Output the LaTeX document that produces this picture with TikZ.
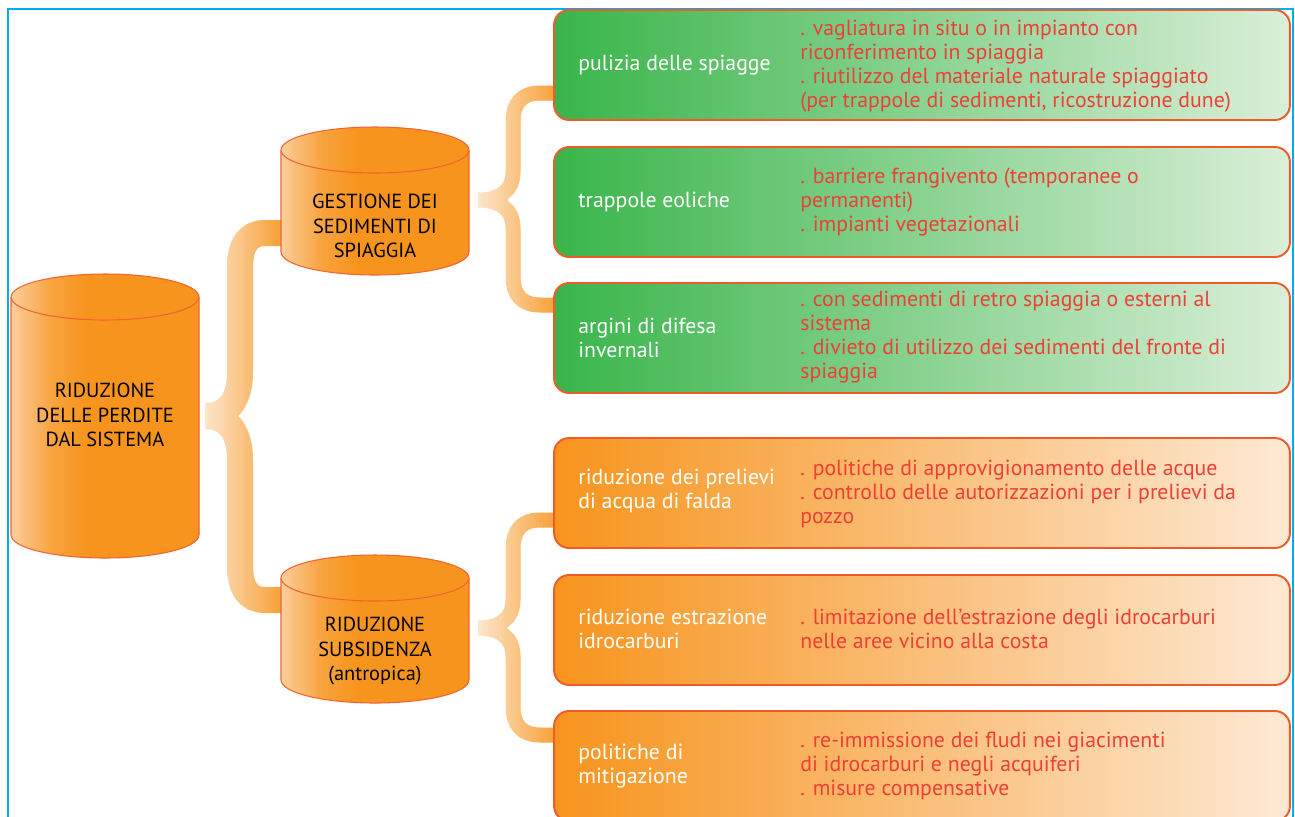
\documentclass[tikz,border=0pt]{standalone}
\usepackage{fontspec}
\setmainfont{PT Sans}

\definecolor{framecyan}{RGB}{0,174,239}
\definecolor{cylorange}{RGB}{247,148,29}
\definecolor{cyllight}{RGB}{251,206,156}
\definecolor{cylline}{RGB}{241,100,50}
\definecolor{boxline}{RGB}{241,90,41}
\definecolor{greendark}{RGB}{57,181,74}
\definecolor{greenlight}{RGB}{218,239,216}
\definecolor{orangelight}{RGB}{253,233,212}
\definecolor{notered}{RGB}{238,64,54}
\definecolor{bracelight}{RGB}{252,230,204}
\definecolor{bracedark}{RGB}{247,160,55}

\pgfdeclarehorizontalshading{cylshade}{100bp}{color(0bp)=(cyllight); color(25bp)=(cyllight); color(36bp)=(cylorange!75!cyllight); color(45bp)=(cylorange); color(100bp)=(cylorange)}

% brace drawn in strips, light at the tip, orange at the arms
\newcommand{\gradbrace}[4]{%
  \foreach \k in {0,...,23} {
    \pgfmathsetmacro{\xa}{#2+(#3-#2)*\k/24}
    \pgfmathsetmacro{\xb}{#2+(#3-#2)*(\k+1)/24+0.6}
    \pgfmathtruncatemacro{\pc}{100*(\k+0.5)/24}
    \begin{scope}
      \clip (\xa,0) rectangle (\xb,816);
      \draw[line width=#4, color=bracedark!\pc!bracelight] #1;
    \end{scope}
  }}

% cylinder: centre x, top y, bottom y
\newcommand{\cylinder}[3]{%
  \shade[shading=cylshade] (#1-94,#2) -- (#1-94,#3) arc[start angle=180, end angle=0, x radius=94, y radius=23] -- (#1+94,#2) arc[start angle=0, end angle=-180, x radius=94, y radius=23] -- cycle;
  \draw[cylline, line width=0.6pt] (#1-94,#2) -- (#1-94,#3) arc[start angle=180, end angle=0, x radius=94, y radius=23] -- (#1+94,#2);
  \shade[shading=cylshade, draw=cylline, line width=0.6pt] (#1,#2) ellipse[x radius=94, y radius=23];
}

\begin{document}
\begin{tikzpicture}[x=0.02cm, y=-0.02cm,
    cyltxt/.style={align=center, text=black, inner sep=0pt, font=\fontsize{11.6}{13.8}\selectfont},
    greenbox/.style={draw=boxline, line width=1.1pt, rounded corners=0.3cm, left color=greendark, right color=greenlight, minimum width=14.72cm, minimum height=2.2cm},
    orangebox/.style={greenbox, left color=cylorange, right color=orangelight},
    lefttxt/.style={anchor=west, align=left, text=white, inner sep=0pt, font=\fontsize{12.4}{13.6}\selectfont},
    righttxt/.style={anchor=west, align=left, text=notered, inner sep=0pt, font=\fontsize{12.4}{13.6}\selectfont}]
  \useasboundingbox (0,0) rectangle (1295,816);
  \draw[framecyan, line width=1.1pt] (8,9) rectangle (1293,840);

  % braces
  \gradbrace{(281,233) -- (265,233) .. controls (248,233) and (240,245) .. (240,268) -- (240,372) .. controls (240,400) and (228,416) .. (205,416)
    (205,416) .. controls (228,416) and (240,432) .. (240,460) -- (240,565) .. controls (240,588) and (248,600) .. (265,600) -- (281,600)}{205}{281}{0.52cm}
  \gradbrace{(556,93) -- (540,93) .. controls (522,93) and (513,103) .. (513,122) -- (513,172) .. controls (513,192) and (498,200) .. (478,200)
    (478,200) .. controls (498,200) and (513,208) .. (513,228) -- (513,276) .. controls (513,295) and (522,305) .. (540,305) -- (556,305)}{478}{556}{0.3cm}
  \gradbrace{(556,520) -- (540,520) .. controls (522,520) and (513,530) .. (513,549) -- (513,600) .. controls (513,620) and (498,628) .. (478,628)
    (478,628) .. controls (498,628) and (513,636) .. (513,656) -- (513,706) .. controls (513,725) and (522,735) .. (540,735) -- (556,735)}{478}{556}{0.3cm}

  % cylinders
  \cylinder{105}{297}{535}
  \cylinder{375}{150}{252}
  \cylinder{375}{578}{680}
  \node[cyltxt] (perdite) at (105,415) {RIDUZIONE\\DELLE PERDITE\\DAL SISTEMA};
  \node[cyltxt] (gestione) at (375,226) {GESTIONE DEI\\SEDIMENTI DI\\SPIAGGIA};
  \node[cyltxt] (subsidenza) at (375,651) {RIDUZIONE\\SUBSIDENZA\\(antropica)};

  % boxes
  \node[greenbox] (pulizia) at (922,65) {};
  \node[greenbox] (trappole) at (922,202) {};
  \node[greenbox] (argini) at (922,338) {};
  \node[orangebox] (prelievi) at (922,493) {};
  \node[orangebox] (estrazione) at (922,630) {};
  \node[orangebox] (mitigazione) at (922,766) {};

  \node[lefttxt] (pulizia-l) at (578,65) {pulizia delle spiagge};
  \node[lefttxt] (trappole-l) at (578,202) {trappole eoliche};
  \node[lefttxt] (argini-l) at (578,338) {argini di difesa\\invernali};
  \node[lefttxt] (prelievi-l) at (578,491) {riduzione dei prelievi\\di acqua di falda};
  \node[lefttxt] (estrazione-l) at (578,629) {riduzione estrazione\\idrocarburi};
  \node[lefttxt] (mitigazione-l) at (578,766) {politiche di\\mitigazione};

  \node[righttxt] (pulizia-r) at (800,66) {. vagliatura in situ o in impianto con\\riconferimento in spiaggia\\. riutilizzo del materiale naturale spiaggiato\\(per trappole di sedimenti, ricostruzione dune)};
  \node[righttxt] (trappole-r) at (800,202) {. barriere frangivento (temporanee o\\permanenti)\\. impianti vegetazionali};
  \node[righttxt] (argini-r) at (800,337) {. con sedimenti di retro spiaggia o esterni al\\sistema\\. divieto di utilizzo dei sedimenti del fronte di\\spiaggia};
  \node[righttxt] (prelievi-r) at (800,494) {. politiche di approvigionamento delle acque\\. controllo delle autorizzazioni per i prelievi da\\pozzo};
  \node[righttxt] (estrazione-r) at (800,629) {. limitazione dell’estrazione degli idrocarburi\\nelle aree vicino alla costa};
  \node[righttxt] (mitigazione-r) at (800,766) {. re-immissione dei fludi nei giacimenti\\di idrocarburi e negli acquiferi\\. misure compensative};
\end{tikzpicture}
\end{document}
